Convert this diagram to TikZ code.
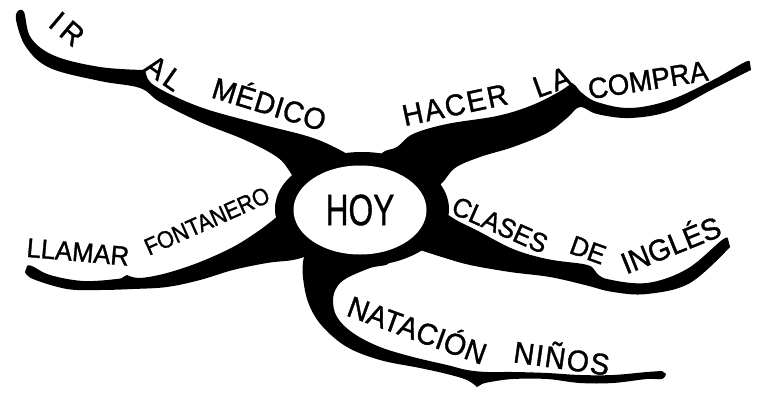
\documentclass[tikz,border=0pt]{standalone}
\usepackage{fontspec}
\usetikzlibrary{shapes.geometric}
\newfontfamily\handfont[FakeStretch=0.95,FakeBold=1.2]{Liberation Sans}
\newfontfamily\hoyfont[FakeStretch=0.72,FakeBold=0.8]{Liberation Sans}
\newcommand\lsp[1]{\addfontfeature{LetterSpace=#1}}
\newcommand\fs[1]{\fontsize{#1}{#1}\selectfont}
\tikzset{
  ink/.style={fill=black},
  lbl/.style={font=\handfont\fs{30}, inner sep=0pt},
  centre/.style={ellipse, fill=white, inner sep=0pt, minimum width=133pt, minimum height=89pt,
    font=\hoyfont\fontsize{44}{50}\selectfont},
}
\begin{document}
\begin{tikzpicture}[x=1pt,y=-1pt]
\useasboundingbox (0,0) rectangle (760,393);
% ring
\fill[ink] (362,209) ellipse [x radius=87, y radius=57];
% branch A: IR AL MEDICO
\fill[ink] plot[smooth,tension=0.6] coordinates {(18,11) (24,12) (31,38) (55,56) (100,67) (143,70)}
  -- plot[smooth,tension=0.6] coordinates {(146,73) (155,86) (200,107) (260,124) (310,137) (340,150) (365,165)}
  -- plot[smooth,tension=0.6] coordinates {(300,190) (290,172) (277,157) (245,140) (200,122) (160,102) (140,88) (100,81) (50,68) (26,47) (16,20) (18,11)} -- cycle;
% branch B: HACER LA COMPRA
\fill[ink] plot[smooth,tension=0.6] coordinates {(375,170) (382,153) (397,147) (413,134) (447,124) (497,116) (530,106) (557,93) (572,83)}
  -- plot[smooth,tension=0.6] coordinates {(576,86) (582,93) (597,102) (630,108) (670,100) (713,80) (745,62) (750,63)}
  -- plot[smooth,tension=0.6] coordinates {(751,70) (713,89) (670,111) (630,118) (597,114) (580,107) (567,118) (547,133) (513,147) (480,157) (455,168) (440,185) (420,195)} -- cycle;
% branch C: CLASES DE INGLES
\fill[ink] plot[smooth,tension=0.6] coordinates {(430,215) (445,214) (458,221) (480,232) (513,249) (547,259) (583,264) (592,267)}
  -- plot[smooth,tension=0.6] coordinates {(596,272) (607,279) (647,283) (687,269) (722,240) (728,239)}
  -- plot[smooth,tension=0.6] coordinates {(730,247) (690,283) (647,294) (613,292) (585,285) (550,277) (510,272) (470,265) (445,258) (420,250)} -- cycle;
% branch D: LLAMAR FONTANERO
\fill[ink] plot[smooth,tension=0.6] coordinates {(295,215) (283,212) (273,220) (257,232) (233,247) (200,262) (167,273) (140,278) (127,275)}
  -- plot[smooth,tension=0.6] coordinates {(123,277) (117,279) (83,281) (50,275) (32,266) (27,266)}
  -- plot[smooth,tension=0.6] coordinates {(25,272) (33,279) (67,289) (100,290) (133,289) (167,287) (200,280) (233,270) (267,263) (293,260) (310,255)} -- cycle;
% branch E: NATACION NINOS
\fill[ink] plot[smooth,tension=0.6] coordinates {(310,240) (303,262) (304,285) (310,307) (323,327) (347,347) (380,360) (420,368) (447,374) (467,380) (477,387)}
  -- plot[smooth,tension=0.6] coordinates {(482,384) (490,382) (513,379) (547,379) (580,383) (613,383) (647,379) (662,379) (666,374)}
  -- plot[smooth,tension=0.6] coordinates {(662,371) (647,372) (613,375) (580,375) (547,373) (513,372) (487,372) (467,370) (447,365) (413,357) (380,347) (353,333) (337,317) (333,300) (337,287) (347,278) (370,268) (390,262) (380,240)} -- cycle;
% centre
\node[centre] (hoy) at (360,210) {HOY};
% labels
\node[lbl, rotate=-40] (ir) at (67,29) {\lsp{20}IR};
\node[lbl, rotate=-35] (al) at (164,73) {\lsp{12}AL};
\node[lbl, rotate=-17] (medico) at (270,102) {\lsp{2}MÉDICO};
\node[lbl, rotate=12] (hacer) at (455,105) {\lsp{6}HACER};
\node[lbl, rotate=20] (la) at (552,82) {\lsp{10}LA};
\node[lbl, rotate=9, font=\handfont\fs{29}] (compra) at (648,80) {COMPRA};
\node[lbl, rotate=-5, font=\handfont\fs{27}] (llamar) at (78,252) {LLAMAR};
\node[lbl, rotate=24, font=\handfont\fs{24}\addfontfeature{FakeStretch=0.9}] (fontanero) at (207,221) {FONTANERO};
\node[lbl, rotate=-24, font=\handfont\fs{27}] (clases) at (500,225) {CLASES};
\node[lbl, rotate=-20, font=\handfont\fs{27}] (de) at (588,250) {DE};
\node[lbl, rotate=22] (ingles) at (670,243) {INGLÉS};
\node[lbl, rotate=-20] (natacion) at (418,328) {\lsp{1}NATACIÓN};
\node[lbl, rotate=-8] (ninos) at (562,356) {\lsp{5}NIÑOS};
\end{tikzpicture}
\end{document}
